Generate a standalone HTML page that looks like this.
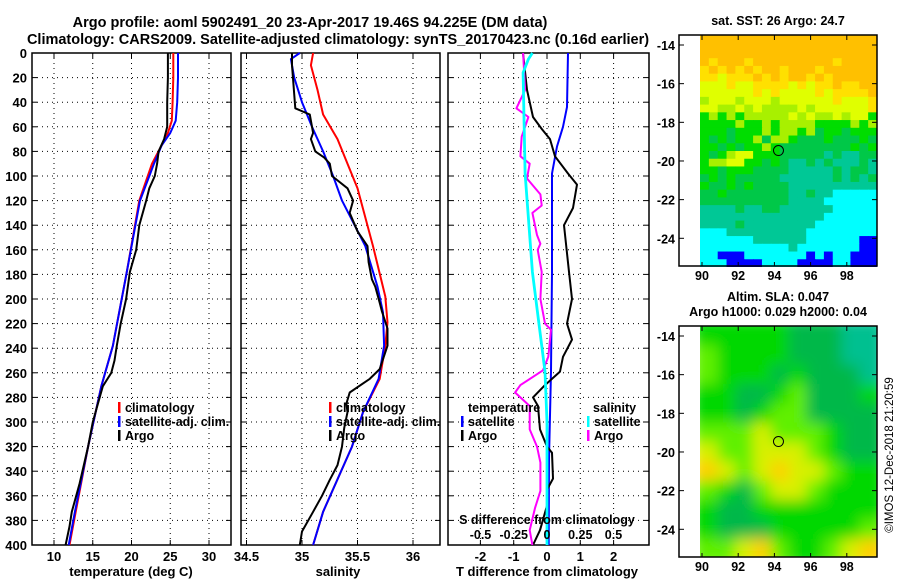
<!DOCTYPE html>
<html><head><meta charset="utf-8"><style>
body{margin:0;background:#fff;}
svg{display:block;font-family:"Liberation Sans",Arial,sans-serif;font-weight:bold;}
</style></head><body>
<svg id="c" width="900" height="580" xmlns="http://www.w3.org/2000/svg">
<defs>
<clipPath id="m1clip"><rect x="700" y="35" width="177" height="232"/></clipPath>
<clipPath id="m2clip"><rect x="700" y="326" width="177" height="231"/></clipPath>
<filter id="blur" x="-10%" y="-10%" width="120%" height="120%"><feGaussianBlur stdDeviation="7"/></filter>
</defs>
<text x="310" y="27" text-anchor="middle" font-size="14.5">Argo profile: aoml 5902491_20 23-Apr-2017 19.46S 94.225E (DM data)</text>
<text x="338" y="44" text-anchor="middle" font-size="14.5">Climatology: CARS2009. Satellite-adjusted climatology: synTS_20170423.nc (0.16d earlier)</text>
<g id="g"></g>
</svg>
<script>
// ---------- data ----------
const climTdepth=[0,20,40,55,65,75,90,120,178,238,271,320,373,400];
const climT=[25.4,25.4,25.3,25.2,24.7,23.9,22.65,21.0,19.4,17.6,16.1,14.4,12.8,12.0];
const satT=[26.0,26.0,25.9,25.7,25.0,23.9,22.9,21.1,19.4,17.6,16.1,14.4,12.7,11.9];
const argoTdepth=[0,20,40,55,60,70,80,90,100,110,120,140,160,178,200,220,238,250,260,271,280,300,320,350,373,385,400];
const argoT=[24.7,24.7,24.6,24.6,24.6,24.2,23.5,23.3,23.0,22.3,21.9,21.0,20.6,19.8,19.3,18.6,18.1,17.8,17.4,16.3,15.9,15.0,14.4,13.3,12.3,12.0,11.5];
const argoSdepth=[0,10,45,50,65,70,80,85,90,100,110,120,130,145,157,170,184,190,203,210,224,238,257,265,276,285,292,305,320,335,347,360,373,389,400];
const argoS=[34.91,34.91,34.94,35.07,35.10,35.08,35.12,35.20,35.25,35.27,35.41,35.46,35.43,35.50,35.59,35.60,35.63,35.66,35.70,35.72,35.77,35.77,35.70,35.61,35.43,35.40,35.41,35.38,35.36,35.32,35.25,35.18,35.10,35.00,34.98];
const satSdepth=[0,5,20,40,60,80,100,120,157,190,211,238,265,292,320,373,400];
const satS=[34.98,34.90,34.93,35.00,35.09,35.19,35.28,35.36,35.57,35.68,35.73,35.74,35.69,35.55,35.45,35.19,35.10];
const climSdepth=[0,10,30,50,70,90,110,157,198,219,238,265,292,320,373,400];
const climS=[35.10,35.08,35.14,35.19,35.32,35.41,35.50,35.64,35.75,35.77,35.75,35.70,35.55,35.45,35.19,35.10];
const dTsatDepth=[0,44,60,76,98,178,259,330,400];
const dTsat=[0.63,0.60,0.48,0.30,0.15,0.15,0.12,0.06,0.05];
const dTargoDepth=[0,30,52,62,70,84,98,107,126,140,178,200,220,233,247,259,270,280,287,306,320,325,346,355,368,388,400];
const dTargo=[-0.72,-0.60,-0.42,-0.15,0.09,0.24,0.63,0.90,0.78,0.51,0.66,0.75,0.60,0.75,0.48,0.39,-0.06,-0.42,-0.27,-0.21,0.0,0.15,0.18,0.0,0.0,-0.21,-0.42];
const dSargoDepth=[0,30,45,52,68,84,90,102,115,124,130,148,155,160,178,200,220,225,247,258,270,276,287,306,320,333,356,370,388,400];
const dSargo=[-0.18,-0.165,-0.23,-0.14,-0.19,-0.20,-0.13,-0.15,-0.05,-0.04,-0.11,-0.075,-0.05,-0.07,-0.04,-0.05,-0.015,0.03,0.01,-0.03,-0.20,-0.24,-0.13,-0.13,-0.075,-0.05,-0.05,-0.09,-0.13,-0.11];
const dSsatDepth=[0,5,16,98,178,259,300,400];
const dSsat=[-0.11,-0.14,-0.18,-0.165,-0.11,-0.015,0.0,0.0];
const depthTicks=[0,20,40,60,80,100,120,140,160,180,200,220,240,260,280,300,320,340,360,380,400];
const tTicks=[10,15,20,25,30];
const sTicks=[34.5,35,35.5,36];
const dTTicks=[-2,-1,0,1,2];
const dSTicks=[-0.5,-0.25,0,0.25,0.5];
const dSTickLabels=["-0.5","-0.25","0","0.25","0.5"];
const lonTicks=[90,92,94,96,98];
const latTicks=[-14,-16,-18,-20,-22,-24];
const sstGrid=["00000000000000000000","00000000000000000000","00000000000000000000","01000100000000010000","10101010010001000000","11211101010010100000",
"22212211112121101100","22222212122221211110","32223222322222212221","22332323333232222221","43434333332323323224","44443443433334444343",
"44454443433435445444","45454435334555455545","44545443455555555454","45432244455555656655","43322445456656566656","44544455556666656556",
"54545555566666656565","45545455556666666666","55455555556656677777","55555555556666777777","66665665566666677777","66666666666666777777",
"66665666666667777777","77766666666677777777","77777766666677777788","77777777776777777788","77888777777787877888","77788887777888877888"];
const sstColors=["#ffc000","#ffe000","#e0ff00","#a8f000","#00dd00","#00c848","#00c896","#00ffff","#0000ff"];
const slaGrid=["2222211100","3222211100","3222121110","2211231112","2212331111","3334333211","4334443211","5434544322","3213443222","2112222222","2111222223","3345322345"];
const slaColors=["#00c090","#00b848","#00d800","#60f000","#d8f000","#ffd000"];
const argoLon=94.225, argoLat=-19.46;

// ---------- helpers ----------
const NS="http://www.w3.org/2000/svg";
const G=document.getElementById('g');
function mk(tag,attrs,parent){const e=document.createElementNS(NS,tag);for(const k in attrs)e.setAttribute(k,attrs[k]);(parent||G).appendChild(e);return e;}
const Y0=53,Y1=545;
const yD=d=>Y0+(d/400)*(Y1-Y0);
const xT=t=>54+(t-10)*7.75;
const xS=s=>302+(s-35)*111;
const xDT=v=>547+v*33.3;
const xDS=v=>547+v*133;
const xLon=l=>702+(l-90)*18.1;
const yLat1=l=>45+(-14-l)*19.33;
const yLat2=l=>336+(-14-l)*19.33;

function txt(x,y,s,opt){const e=mk('text',Object.assign({x:x,y:y,'font-size':12.5,'text-anchor':'middle'},opt||{}));e.textContent=s;return e;}

function panel(name,x0,x1,xf,ticks,labels,yLabels){
  const g=mk('g',{});
  
  
  depthTicks.forEach((d,i)=>{
    if(i>0&&i<depthTicks.length-1){const l=mk('line',{x1:x0,x2:x1,y1:yD(d),y2:yD(d),stroke:'#000','stroke-width':1,'stroke-dasharray':'1,4'},g);}
    mk('line',{x1:x0,x2:x0+5,y1:yD(d),y2:yD(d),stroke:'#000'},g);
    mk('line',{x1:x1-5,x2:x1,y1:yD(d),y2:yD(d),stroke:'#000'},g);
    if(yLabels){const t=txt(x0-5,yD(d)+5,String(d),{'text-anchor':'end','font-size':13});}
  });
  ticks.forEach((v,i)=>{
    const x=xf(v);
    const l=mk('line',{x1:x,x2:x,y1:Y0,y2:Y1,stroke:'#000','stroke-width':1,'stroke-dasharray':'1,4'},g);
    
    
    mk('line',{x1:x,x2:x,y1:Y1-5,y2:Y1,stroke:'#000'},g);
    mk('line',{x1:x,x2:x,y1:Y0,y2:Y0+5,stroke:'#000'},g);
    const t=txt(x,561,labels[i],{'font-size':13});
    
    
  });
  const r=mk('rect',{x:x0,y:Y0,width:x1-x0,height:Y1-Y0,fill:'none',stroke:'#000','stroke-width':1.5},g);
  
  
}
function line(xs,ds,xf,color,name,w){
  const pts=xs.map((v,i)=>xf(v).toFixed(1)+','+yD(ds[i]).toFixed(1)).join(' ');
  const p=mk('polyline',{points:pts,fill:'none',stroke:color,'stroke-width':w||2,'stroke-linejoin':'round'});
  
  
}
function legend(x,y,items,name){
  const g=mk('g',{});
  
  
  items.forEach((it,i)=>{
    mk('rect',{x:x,y:y+i*14-10,width:2.5,height:11,fill:it[1]},g);
    const t=mk('text',{x:x+7,y:y+i*14,'font-size':12.5},g);t.textContent=it[0];
  });
}

// ---------- panel 1: temperature ----------
panel('temperature-panel',32,231,xT,tTicks,tTicks.map(String),true);
line(climT,climTdepth,xT,'#f00','climatology-temperature-line');
line(satT,climTdepth,xT,'#00f','satellite-temperature-line');
line(argoT,argoTdepth,xT,'#000','argo-temperature-line');
legend(118,412,[['climatology','#f00'],['satellite-adj. clim.','#00f'],['Argo','#000']],'temperature-legend');
let t=txt(131,576,'temperature (deg C)',{'font-size':13});


// ---------- panel 2: salinity ----------
panel('salinity-panel',241,440,xS,sTicks,sTicks.map(String),false);
line(climS,climSdepth,xS,'#f00','climatology-salinity-line');
line(satS,satSdepth,xS,'#00f','satellite-salinity-line');
line(argoS,argoSdepth,xS,'#000','argo-salinity-line');
legend(329,412,[['climatology','#f00'],['satellite-adj. clim.','#00f'],['Argo','#000']],'salinity-legend');
t=txt(338,576,'salinity',{'font-size':13});


// ---------- panel 3: differences ----------
panel('difference-panel',448,649,xDT,dTTicks,dTTicks.map(String),false);
line(dTsat,dTsatDepth,xDT,'#00f','satellite-t-difference-line');
line(dTargo,dTargoDepth,xDT,'#000','argo-t-difference-line');
line(dSargo,dSargoDepth,xDS,'#f0f','argo-s-difference-line');
line(dSsat,dSsatDepth,xDS,'#0ff','satellite-s-difference-line',2.8);
legend(461,426,[['satellite','#00f'],['Argo','#000']],'temperature-diff-legend');
t=txt(468,412,'temperature',{'text-anchor':'start'});
legend(587,426,[['satellite','#0ff'],['Argo','#f0f']],'salinity-diff-legend');
t=txt(593,412,'salinity',{'text-anchor':'start'});
t=txt(547,524,'S difference from climatology');
dSTicks.forEach((v,i)=>{const e=txt(xDS(v),539,dSTickLabels[i]);});
t=txt(547,576,'T difference from climatology',{'font-size':13});

// ---------- maps ----------
function map(name,grid,colors,top,yLat,blur,clip){
  const g=mk('g',{});
  
  
  const inner=mk('g',{'clip-path':'url(#'+clip+')'},g);
  const img=mk('g',blur?{filter:'url(#blur)'}:{},inner);
  const nr=grid.length,nc=grid[0].length;
  const cw=177/nc,ch=232/nr;
  grid.forEach((row,r)=>{[...row].forEach((c,k)=>{
    const ex=blur?8:0;
    const x0=700+k*cw-(k===0?ex:0), y0=top+r*ch-(r===0?ex:0);
    const rc=mk('rect',{x:x0,y:y0,width:cw+0.6+(k===0||k===nc-1?ex:0),height:ch+0.6+(r===0||r===nr-1?ex:0),fill:colors[+c]},img);
    
    
  });});
  mk('rect',{x:679,y:top,width:198,height:231,fill:'none',stroke:'#000','stroke-width':1.5},g);
  lonTicks.forEach(l=>{const x=xLon(l);mk('line',{x1:x,x2:x,y1:top,y2:top+5,stroke:'#000'},g);mk('line',{x1:x,x2:x,y1:top+231-4,y2:top+231,stroke:'#000'},g);
    const e=txt(x,top+245,String(l),{'font-size':12.5});});
  latTicks.forEach(l=>{const y=yLat(l);mk('line',{x1:679,x2:684,y1:y,y2:y,stroke:'#000'},g);mk('line',{x1:872,x2:877,y1:y,y2:y,stroke:'#000'},g);
    const e=txt(675,y+5,String(l),{'text-anchor':'end','font-size':12.5});});
  const m=mk('circle',{cx:xLon(argoLon),cy:yLat(argoLat),r:5,fill:'none',stroke:'#000','stroke-width':1},g);
  
  
}
map('sst-map',sstGrid,sstColors,35,yLat1,false,'m1clip');
map('sla-map',slaGrid,slaColors,326,yLat2,true,'m2clip');
t=txt(778,25,'sat. SST: 26 Argo: 24.7');
t=txt(778,301,'Altim. SLA: 0.047');
t=txt(778,316,'Argo h1000: 0.029 h2000: 0.04');
t=mk('text',{x:0,y:0,'font-size':11.5,'font-weight':'normal','text-anchor':'middle',transform:'translate(893,455) rotate(-90)'});
t.textContent='©IMOS 12-Dec-2018 21:20:59';


</script>
</body></html>
